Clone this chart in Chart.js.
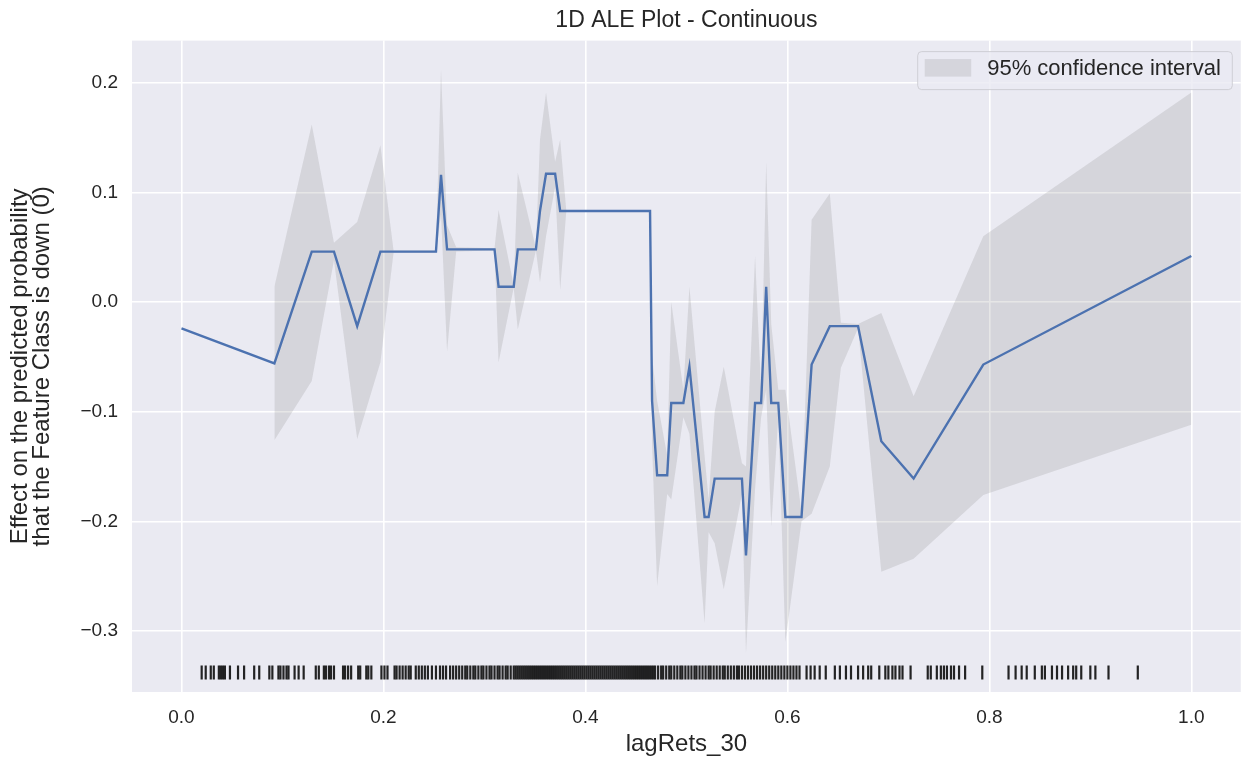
<!DOCTYPE html>
<html>
<head>
<meta charset="utf-8">
<title>1D ALE Plot - Continuous</title>
<script src="https://cdn.jsdelivr.net/npm/chart.js@4.4.1/dist/chart.umd.min.js"></script>
<style>
  html, body { margin: 0; padding: 0; background: #fff; }
  #wrap { width: 1250px; height: 766px; }
</style>
</head>
<body>
<div id="wrap"><canvas id="ale"></canvas></div>
<script>
// ── ALE curve for lagRets_30 ──────────────────────────
const aleX = [0.000, 0.092, 0.129, 0.151, 0.174, 0.197, 0.210, 0.252, 0.257, 0.263,
              0.272, 0.310, 0.314, 0.329, 0.333, 0.351, 0.355, 0.361, 0.370, 0.375,
              0.381, 0.464, 0.466, 0.471, 0.481, 0.485, 0.497, 0.503, 0.518, 0.522,
              0.528, 0.537, 0.555, 0.559, 0.568, 0.574, 0.579, 0.584, 0.591, 0.598,
              0.614, 0.624, 0.642, 0.653, 0.670, 0.693, 0.725, 0.794, 1.000];
const aleY = [-0.024, -0.056, 0.046, 0.046, -0.022, 0.046, 0.046, 0.046, 0.116, 0.048,
              0.048, 0.048, 0.014, 0.014, 0.048, 0.048, 0.083, 0.117, 0.117, 0.083,
              0.083, 0.083, -0.090, -0.158, -0.158, -0.092, -0.092, -0.059, -0.196, -0.196,
              -0.161, -0.161, -0.161, -0.231, -0.092, -0.092, 0.014, -0.092, -0.092, -0.196,
              -0.196, -0.057, -0.022, -0.022, -0.022, -0.127, -0.161, -0.057, 0.042];

// 95% confidence band, same x grid as the curve (no band at the first bin)
const ciLower = [null, -0.126, -0.072, 0.038, -0.125, -0.055, 0.045, 0.045, 0.080, -0.045,
                 0.046, 0.047, -0.055, 0.013, -0.025, 0.047, 0.018, 0.060, 0.105, 0.011,
                 0.082, 0.082, -0.130, -0.259, -0.175, -0.180, -0.105, -0.120, -0.293, -0.210,
                 -0.220, -0.262, -0.175, -0.320, -0.170, -0.105, -0.080, -0.205, -0.105, -0.310,
                 -0.200, -0.193, -0.150, -0.060, -0.024, -0.246, -0.234, -0.176, -0.112];
const ciUpper = [null, 0.014, 0.162, 0.054, 0.073, 0.143, 0.047, 0.047, 0.212, 0.070,
                 0.050, 0.049, 0.084, 0.015, 0.118, 0.049, 0.148, 0.191, 0.128, 0.148,
                 0.084, 0.084, -0.050, -0.090, -0.140, 0.000, -0.080, 0.014, -0.140, -0.180,
                 -0.100, -0.059, -0.147, -0.150, 0.042, -0.080, 0.128, -0.020, -0.080, -0.080,
                 -0.192, 0.075, 0.099, -0.019, -0.020, -0.010, -0.086, 0.060, 0.191];

// observed lagRets_30 values for the rug, in thousandths
const rugX = [20, 24, 29, 32, 37, 39, 41, 43, 48, 56, 62, 72, 77, 87, 90, 96, 98, 101, 104, 106,
              112, 116, 121, 133, 136, 141, 143, 146, 148, 151, 160, 162, 165, 168, 175, 177, 183,
              185, 188, 198, 201, 204, 211, 213, 216, 219, 222, 225, 227, 232, 235, 238, 241, 244,
              248, 252, 256, 259, 262, 266, 269, 272, 275,
              278, 281, 283, 286, 289, 291, 294, 297, 299, 302, 305, 307, 310, 313, 315, 318, 321,
              323, 326, 329, 331, 333, 335, 337, 339, 341, 343, 345, 347, 349, 351, 353, 355, 357,
              359, 361, 363, 365, 367, 369, 371, 373, 375, 377, 379, 381, 383, 385, 387, 389, 391,
              393, 395, 397, 399, 401, 403, 405, 407, 409, 411, 413, 415, 417, 419, 421, 423, 425,
              427, 429, 431, 433, 435, 437, 439, 441, 443, 445, 447, 449, 451, 453, 455, 457, 459,
              461, 463, 465, 467, 469, 472, 475, 477, 480, 483, 485, 488, 491, 494, 496, 499, 502,
              505, 508, 510, 513, 516, 519, 522, 524, 527, 530, 533, 536, 538, 541, 544, 547, 550,
              552, 555, 558, 561, 564, 567, 570, 573, 576, 579, 582, 585, 588, 591, 594, 597, 600,
              603, 606, 609, 612,
              619, 623, 627, 632, 638, 647, 652, 658, 663, 670, 675, 680, 683, 691, 697, 700, 704,
              707, 711, 714, 722, 739, 742, 748, 752, 755, 758, 762, 765, 770, 776, 793,
              819, 826, 832, 837, 845, 852, 855, 862, 867, 872, 878, 883, 886, 891, 900, 905, 918, 947];

const xTicks = [0, 0.2, 0.4, 0.6, 0.8, 1.0];
const yTicks = [-0.3, -0.2, -0.1, 0, 0.1, 0.2];

// ── Axis limits (matplotlib-style 5% margins) ─────────
const X_MIN = -0.049, X_MAX = 1.049;
const Y_MIN = -0.3556, Y_MAX = 0.2384;

const FONT = 'Arial, "Liberation Sans", sans-serif';
const INK = '#262626';
const CI_FILL = 'rgba(128,128,128,0.2)';

Chart.defaults.font.family = FONT;
Chart.defaults.color = INK;

const pts = (xs, ys) => xs.map((x, i) => ({ x, y: ys[i] }));
const rugLevel = Y_MIN + 0.03 * (Y_MAX - Y_MIN);

// seaborn darkgrid background behind the plot area
const plotBg = {
  id: 'plotBg',
  beforeDraw(chart) {
    const { ctx, chartArea: a } = chart;
    ctx.save();
    ctx.fillStyle = '#eaeaf2';
    ctx.fillRect(a.left, a.top, a.width, a.height);
    ctx.restore();
  },
};

// framed legend in the upper right corner of the plot
const ciLegend = {
  id: 'ciLegend',
  afterDatasetsDraw(chart, args, opts) {
    const { ctx, chartArea: a } = chart;
    ctx.save();
    ctx.font = `${opts.size}px ${FONT}`;
    const w = ctx.measureText(opts.text).width + 81;
    const h = 38;
    const x = a.right - 9 - w;
    const y = a.top + 10.5;
    ctx.beginPath();
    ctx.roundRect(x + 0.5, y + 0.5, w, h, 4);
    ctx.fillStyle = 'rgba(234,234,242,0.8)';
    ctx.fill();
    ctx.strokeStyle = 'rgba(204,204,210,0.9)';
    ctx.lineWidth = 1;
    ctx.stroke();
    ctx.fillStyle = CI_FILL;
    ctx.fillRect(x + 7.5, y + 8, 46.5, 17.5);
    ctx.fillStyle = INK;
    ctx.textBaseline = 'middle';
    ctx.fillText(opts.text, x + 70, y + h / 2 - 1);
    ctx.restore();
  },
};

new Chart(document.getElementById('ale'), {
  type: 'line',
  data: {
    datasets: [
      { label: 'ALE', data: pts(aleX, aleY), borderColor: '#4c72b0', borderWidth: 2.4,
        pointRadius: 0, tension: 0, fill: false, order: 0 },
      { label: 'rug', type: 'scatter', data: rugX.map(v => ({ x: v / 1000, y: rugLevel })),
        pointStyle: 'line', rotation: 90, radius: 7, borderColor: 'rgba(0,0,0,0.85)',
        borderWidth: 2.2, order: 1 },
      { label: 'ci upper', data: pts(aleX, ciUpper), borderColor: 'rgba(0,0,0,0)', borderWidth: 0,
        pointRadius: 0, tension: 0, fill: '+1', backgroundColor: CI_FILL, order: 2 },
      { label: 'ci lower', data: pts(aleX, ciLower), borderColor: 'rgba(0,0,0,0)', borderWidth: 0,
        pointRadius: 0, tension: 0, fill: false, order: 3 },
    ],
  },
  options: {
    responsive: true,
    maintainAspectRatio: false,
    animation: false,
    events: [],
    layout: { padding: { left: 0, right: 3, top: 0, bottom: 0 } },
    scales: {
      x: {
        type: 'linear', min: X_MIN, max: X_MAX,
        afterBuildTicks: s => { s.ticks = xTicks.map(value => ({ value })); },
        afterFit: s => { s.height = 74; },
        grid: { color: '#ffffff', lineWidth: 1.6, drawTicks: false },
        border: { display: false },
        ticks: { padding: 14, font: { size: 19 }, color: INK, callback: v => v.toFixed(1) },
        title: { display: true, text: 'lagRets_30', font: { size: 24 }, color: INK, padding: { bottom: 7 } },
      },
      y: {
        type: 'linear', min: Y_MIN, max: Y_MAX,
        afterBuildTicks: s => { s.ticks = yTicks.map(value => ({ value })); },
        afterFit: s => { s.width = 132; },
        grid: { color: '#ffffff', lineWidth: 1.6, drawTicks: false },
        border: { display: false },
        ticks: { padding: 14, font: { size: 19 }, color: INK,
                 callback: v => (v < 0 ? '\u2212' : '') + Math.abs(v).toFixed(1) },
        title: { display: true, color: INK, padding: { top: 9 },
                 text: ['Effect on the predicted probability', 'that the Feature Class is down (0)'],
                 font: { size: 24, lineHeight: 0.92 } },
      },
    },
    plugins: {
      legend: { display: false },
      tooltip: { enabled: false },
      title: { display: true, fullSize: false, text: '1D ALE Plot - Continuous', color: INK,
               font: { size: 23, weight: 'normal' }, padding: { top: 7, bottom: 6 } },
      ciLegend: { text: '95% confidence interval', size: 22 },
    },
  },
  plugins: [plotBg, ciLegend],
});
</script>
</body>
</html>
